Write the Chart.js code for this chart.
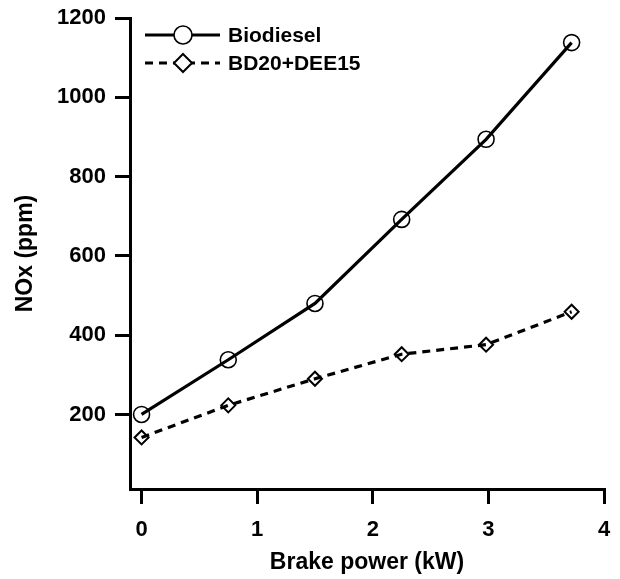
<!DOCTYPE html>
<html>
<head>
<meta charset="utf-8">
<script src="https://cdn.jsdelivr.net/npm/chart.js@4"></script>
<style>
  html, body { margin: 0; padding: 0; background: #fff; }
  #wrap { width: 620px; height: 579px; }
</style>
</head>
<body>
<div id="wrap"><canvas id="noxChart" width="620" height="579"></canvas></div>
<script>
// values
var brakePower = [0, 0.75, 1.5, 2.25, 2.98, 3.72];
var noxBiodiesel = [200, 338, 480, 692, 894, 1138];
var noxBlend = [142, 223, 290, 352, 376, 459];
var seriesNames = ['Biodiesel', 'BD20+DEE15'];
var xTicks = [0, 1, 2, 3, 4];
var yTicks = [200, 400, 600, 800, 1000, 1200];

var FONT = '"Liberation Sans", Arial, sans-serif';

function toPoints(xs, ys) {
    return xs.map(function (x, i) { return { x: x, y: ys[i] }; });
}

// legend drawn like the original: line with the marker sitting in the middle
var lineLegend = {
    id: 'lineLegend',
    afterDatasetsDraw: function (chart) {
        var ctx = chart.ctx;
        var rows = [35, 63];
        chart.data.datasets.forEach(function (ds, i) {
            var y = rows[i];
            ctx.save();
            ctx.strokeStyle = '#000';
            ctx.lineWidth = ds.borderWidth;
            ctx.setLineDash(ds.borderDash || []);
            ctx.beginPath();
            ctx.moveTo(145, y);
            ctx.lineTo(220, y);
            ctx.stroke();
            ctx.setLineDash([]);
            ctx.fillStyle = '#fff';
            ctx.lineWidth = ds.pointBorderWidth;
            ctx.beginPath();
            if (ds.pointStyle === 'circle') {
                ctx.arc(183, y, 9, 0, Math.PI * 2);
            } else {
                ctx.moveTo(183, y - 9);
                ctx.lineTo(192, y);
                ctx.lineTo(183, y + 9);
                ctx.lineTo(174, y);
                ctx.closePath();
            }
            ctx.fill();
            ctx.stroke();
            ctx.fillStyle = '#000';
            ctx.font = 'bold 21px ' + FONT;
            ctx.textBaseline = 'middle';
            ctx.textAlign = 'left';
            ctx.fillText(ds.label, 228, y + 1);
            ctx.restore();
        });
    }
};

var ctx = document.getElementById('noxChart').getContext('2d');

var noxChart = new Chart(ctx, {
    type: 'line',
    data: {
        datasets: [
            {
                label: seriesNames[0],
                data: toPoints(brakePower, noxBiodiesel),
                borderColor: '#000',
                borderWidth: 3.2,
                pointStyle: 'circle',
                pointRadius: 8,
                pointBorderWidth: 1.6,
                pointBackgroundColor: 'rgba(0,0,0,0)',
                pointBorderColor: '#000',
                tension: 0,
                clip: false
            },
            {
                label: seriesNames[1],
                data: toPoints(brakePower, noxBlend),
                borderColor: '#000',
                borderWidth: 3.2,
                borderDash: [8, 6],
                pointStyle: 'rectRot',
                pointRadius: 7,
                pointBorderWidth: 2,
                pointBackgroundColor: 'rgba(0,0,0,0)',
                pointBorderColor: '#000',
                tension: 0,
                clip: false
            }
        ]
    },
    options: {
        responsive: false,
        animation: false,
        devicePixelRatio: 1,
        layout: {
            padding: { left: 0, top: 18, right: 16, bottom: 0 }
        },
        plugins: {
            legend: { display: false },
            tooltip: { enabled: false }
        },
        scales: {
            x: {
                type: 'linear',
                min: -0.1,
                max: 4,
                afterFit: function (scale) {
                    scale.height = 90;
                    scale.paddingLeft = 0;
                    scale.paddingRight = 0;
                },
                afterBuildTicks: function (scale) {
                    scale.ticks = xTicks.map(function (v) { return { value: v }; });
                },
                border: { display: true, color: '#000', width: 3 },
                grid: {
                    drawOnChartArea: false,
                    drawTicks: true,
                    tickLength: 15,
                    lineWidth: 3,
                    color: '#000'
                },
                ticks: {
                    color: '#000',
                    padding: 13,
                    maxRotation: 0,
                    callback: function (value) { return String(value); },
                    font: { family: FONT, size: 22, weight: 'bold' }
                },
                title: {
                    display: true,
                    text: 'Brake power (kW)',
                    color: '#000',
                    padding: { top: 0, bottom: 3 },
                    font: { family: FONT, size: 23, weight: 'bold' }
                }
            },
            y: {
                type: 'linear',
                min: 12,
                max: 1200,
                afterFit: function (scale) {
                    scale.width = 130;
                    scale.paddingTop = 0;
                    scale.paddingBottom = 0;
                },
                afterBuildTicks: function (scale) {
                    scale.ticks = yTicks.map(function (v) { return { value: v }; });
                },
                border: { display: true, color: '#000', width: 3 },
                grid: {
                    drawOnChartArea: false,
                    drawTicks: true,
                    tickLength: 15,
                    lineWidth: 3,
                    color: '#000'
                },
                ticks: {
                    color: '#000',
                    padding: 9,
                    callback: function (value) { return String(value); },
                    font: { family: FONT, size: 22, weight: 'bold' }
                },
                title: {
                    display: true,
                    text: 'NOx (ppm)',
                    color: '#000',
                    padding: { top: 12, bottom: 0 },
                    font: { family: FONT, size: 23, weight: 'bold' }
                }
            }
        }
    },
    plugins: [lineLegend]
});
</script>
</body>
</html>
